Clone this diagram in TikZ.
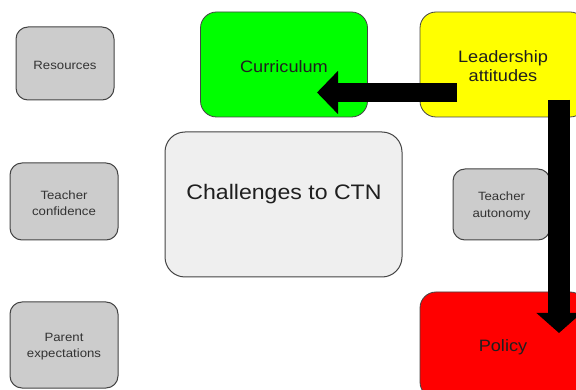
\documentclass[tikz,border=0pt]{standalone}
\usepackage{fontspec}
\setmainfont{Liberation Sans}[FakeStretch=1.1]
\usetikzlibrary{arrows.meta}
\definecolor{boxgray}{HTML}{CCCCCC}
\definecolor{edgegray}{HTML}{444444}
\definecolor{textgray}{HTML}{333333}
\definecolor{paleface}{HTML}{EFEFEF}
\definecolor{curgreen}{HTML}{00FF00}
\definecolor{leadyellow}{HTML}{FFFF00}
\definecolor{polred}{HTML}{FF0000}
\tikzset{
  smallbox/.style={draw=edgegray, line width=1pt, fill=boxgray, rounded corners=12pt,
    minimum width=98pt, minimum height=73pt, align=center, text=textgray,
    font=\fontsize{12}{16.5}\selectfont},
  smallone/.style={smallbox, text height=12.5pt},
  smalltwo/.style={smallbox, text height=28.3pt},
  colbox/.style={draw=edgegray, line width=0.8pt, rounded corners=16pt,
    minimum width=166pt, minimum height=105pt, align=center, text=black!88,
    font=\fontsize{16.5}{19.5}\selectfont},
  colone/.style={colbox, text height=15.5pt},
  coltwo/.style={colbox, text height=34.5pt},
  bigarrow/.style={draw=black, line cap=butt}
}
\begin{document}
\begin{tikzpicture}[x=1pt, y=-1pt]
  \useasboundingbox (0,0) rectangle (576,390);
  \clip (0,0) rectangle (576,390);
  \fill[white] (0,0) rectangle (576,390);

  % factor boxes on the left and right
  \node[smallone] (res) at (65,63.5) {Resources};
  \node[smalltwo, minimum width=108pt, minimum height=77pt] (conf) at (64,201.5) {Teacher\\confidence};
  \node[smalltwo, minimum width=108pt, minimum height=86pt] (par) at (64,345) {Parent\\expectations};
  \node[smalltwo, minimum width=97pt, minimum height=71pt] (aut) at (501.5,204.5) {Teacher\\autonomy};

  % central box
  \node[draw=edgegray, line width=1pt, fill=paleface, rounded corners=20pt,
        minimum width=237pt, minimum height=145pt] (ctn) at (283.5,204.5) {};
  \node[font=\fontsize{21}{25}\selectfont, text=black!88] (ctnlabel) at (284,194.5) {Challenges to CTN};

  % coloured boxes
  \node[colone, fill=curgreen, minimum width=167pt] (cur) at (284,64.5) {Curriculum};
  \node[coltwo, fill=leadyellow] (lead) at (503,64.5) {Leadership\\attitudes};
  \node[colone, fill=polred, minimum height=106pt] (pol) at (503,345) {Policy};

  % thick arrows out of the leadership box
  \coordinate (leadW) at (457,92.5);
  \coordinate (curE) at (317,92.5);
  \draw[bigarrow, line width=19pt, -{Triangle[length=21pt,width=42pt]}] (leadW) -- (curE);
  \coordinate (leadS) at (559,100);
  \coordinate (polN) at (559,333);
  \draw[bigarrow, line width=22pt, -{Triangle[length=20pt,width=44pt]}] (leadS) -- (polN);
\end{tikzpicture}
\end{document}
